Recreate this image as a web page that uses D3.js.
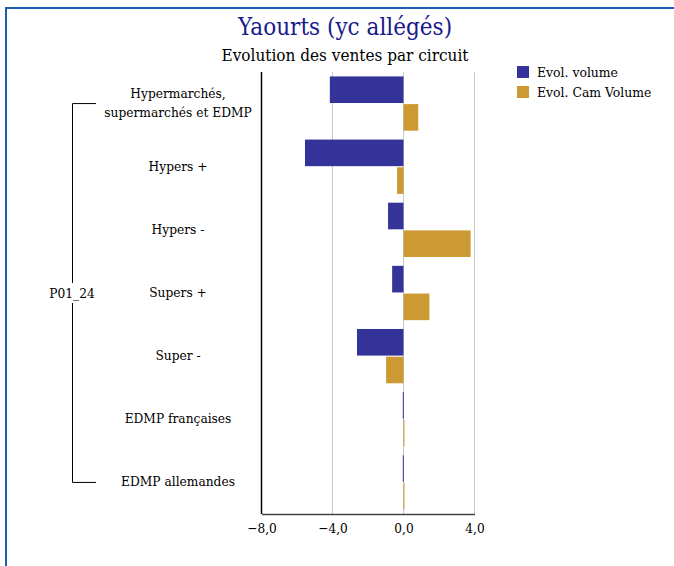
<!DOCTYPE html>
<html>
<head>
<meta charset="utf-8">
<script src="https://cdn.jsdelivr.net/npm/d3@7"></script>
<style>
  body { margin: 0; background: #fff; }
  svg text { font-family: "DejaVu Serif", serif; font-stretch: condensed; }
</style>
</head>
<body>
<div class="curr-graff"></div>
<script>
// categories and series
var categories = ["Hypermarchés,\nsupermarchés et EDMP", "Hypers +", "Hypers -", "Supers +", "Super -", "EDMP françaises", "EDMP allemandes"];
var evolVolume = [-4.15, -5.55, -0.87, -0.64, -2.62, -0.04, -0.04];
var evolCam = [0.83, -0.36, 3.78, 1.46, -0.98, 0.02, 0.02];
var seriesNames = ["Evol. volume", "Evol. Cam Volume"];
var seriesColors = ["#333399", "#cc9933"];
var xTicks = [-8, -4, 0, 4];
var groupLabel = "P01_24";

var width = 674, height = 566;

var svg = d3.select(".curr-graff")
    .append("svg")
    .attr("width", width)
    .attr("height", height);

// frame
svg.append("path")
    .attr("d", "M6,600 L6,8 L700,8")
    .attr("fill", "none")
    .attr("stroke", "#1a5fb4")
    .attr("stroke-width", 2);

svg.append("text")
    .attr("x", 345).attr("y", 35)
    .attr("text-anchor", "middle")
    .attr("font-size", 24)
    .attr("fill", "#1a1a8c")
    .text("Yaourts (yc allégés)");

svg.append("text")
    .attr("x", 345).attr("y", 61)
    .attr("text-anchor", "middle")
    .attr("font-size", 17)
    .attr("fill", "#000")
    .text("Evolution des ventes par circuit");

var xScale = d3.scaleLinear()
    .domain([-8, 4])
    .range([261.5, 474.5]);

var yScale = d3.scaleBand()
    .domain(categories)
    .range([72, 514])
    .paddingInner(0.14)
    .paddingOuter(0.07);

var sub = d3.scaleBand()
    .domain([0, 1])
    .range([0, yScale.bandwidth()])
    .paddingInner(0.04);

// grid
svg.append("g")
    .selectAll("line")
    .data(xTicks.slice(1))
    .enter()
    .append("line")
    .attr("x1", d => xScale(d)).attr("x2", d => xScale(d))
    .attr("y1", 72).attr("y2", 514)
    .attr("stroke", "#c8c8c8")
    .attr("stroke-width", 1);

// bars
var rows = categories.map((c, i) => ({cat: c, vals: [evolVolume[i], evolCam[i]]}));

var grp = svg.append("g").selectAll("g")
    .data(rows)
    .enter()
    .append("g")
    .attr("transform", d => "translate(0," + yScale(d.cat) + ")");

grp.selectAll("rect")
    .data(d => d.vals.map((v, k) => ({v: v, k: k})))
    .enter()
    .append("rect")
    .attr("x", d => xScale(Math.min(0, d.v)))
    .attr("width", d => Math.max(1, Math.abs(xScale(d.v) - xScale(0))))
    .attr("y", d => sub(d.k))
    .attr("height", sub.bandwidth())
    .attr("fill", d => seriesColors[d.k]);

// axes
var xAxis = d3.axisBottom(xScale)
    .tickValues(xTicks)
    .tickSize(0)
    .tickPadding(9)
    .tickFormat(d => d3.format(".1f")(d).replace(".", ","));

var gx = svg.append("g")
    .attr("transform", "translate(0,514)")
    .call(xAxis);
gx.select(".domain").attr("stroke", "#444").attr("stroke-width", 1.5);
gx.selectAll("text").attr("font-size", 13.5).attr("fill", "#000").style("font-family", "DejaVu Serif").style("font-stretch", "condensed");

svg.append("line")
    .attr("x1", 261.5).attr("x2", 261.5)
    .attr("y1", 72).attr("y2", 514)
    .attr("stroke", "#000")
    .attr("stroke-width", 1.5);

// category labels
var lab = svg.append("g").selectAll("text")
    .data(categories)
    .enter()
    .append("text")
    .attr("text-anchor", "middle")
    .attr("font-size", 13.6)
    .attr("fill", "#000")
    .attr("transform", d => "translate(178," + (yScale(d) + yScale.bandwidth() / 2) + ")");

lab.each(function(d) {
    var lines = d.split("\n");
    var t = d3.select(this);
    lines.forEach((l, i) => {
        t.append("tspan")
            .attr("x", 0)
            .attr("y", (i - (lines.length - 1) / 2) * 19 + 4)
            .text(l);
    });
});

// group bracket
var yTop = yScale(categories[0]) + yScale.bandwidth() / 2;
var yBot = yScale(categories[categories.length - 1]) + yScale.bandwidth() / 2;
var yMid = (yTop + yBot) / 2;
svg.append("path")
    .attr("d", "M96," + yTop + " H72.5 V" + (yMid - 10) + " M72.5," + (yMid + 10) + " V" + yBot + " H96")
    .attr("fill", "none")
    .attr("stroke", "#000")
    .attr("stroke-width", 1);

svg.append("text")
    .attr("x", 72).attr("y", yMid + 5)
    .attr("text-anchor", "middle")
    .attr("font-size", 13.6)
    .attr("fill", "#000")
    .text(groupLabel);

// legend
var leg = svg.append("g").selectAll("g")
    .data(seriesNames)
    .enter()
    .append("g")
    .attr("transform", (d, i) => "translate(517," + (66 + i * 20) + ")");

leg.append("rect")
    .attr("width", 12).attr("height", 12)
    .attr("fill", (d, i) => seriesColors[i]);

leg.append("text")
    .attr("x", 20).attr("y", 11)
    .attr("font-size", 13.8)
    .attr("fill", "#000")
    .text(d => d);
</script>
</body>
</html>
